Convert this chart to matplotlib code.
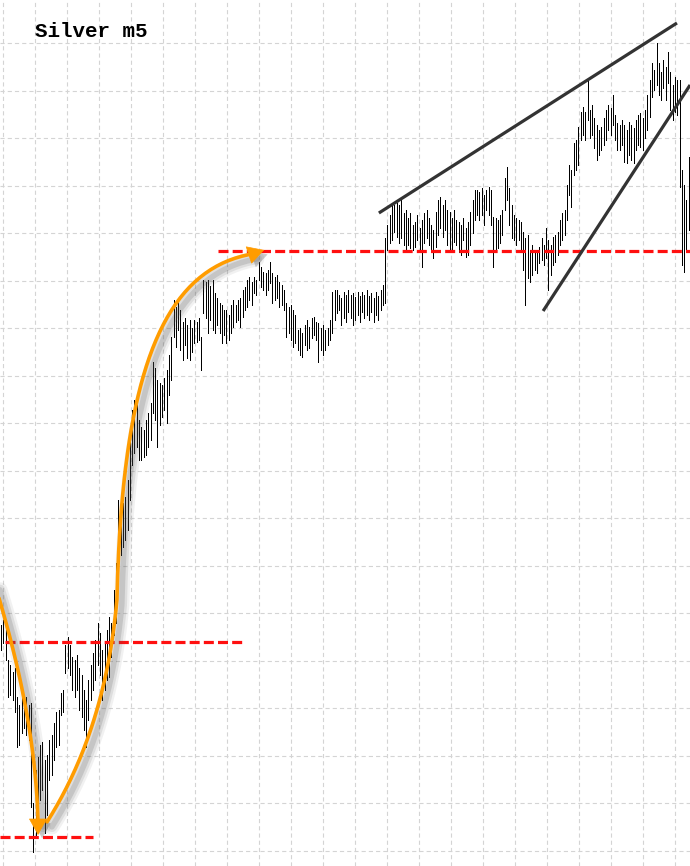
import numpy as np
import matplotlib
matplotlib.use("Agg")
import matplotlib.pyplot as plt
from matplotlib import patheffects as pe

plt.rcParams['lines.scale_dashes'] = False

TITLE = "Silver m5"

# bar highs / lows (price units), one entry per 5-minute bar
high = [241, 246, 236, 206, 201, 194, 198, 169, 161, 173, 166, 169, 161, 163, 63, 96, 109, 121, 124, 106,
        111, 126, 131, 143, 154, 156, 173, 176, 221, 229, 221, 209, 206, 211, 198, 191, 176, 166, 186, 201,
        213, 226, 243, 233, 216, 223, 236, 249, 243, 276, 303, 366, 356, 363, 369, 386, 426, 456, 466, 466,
        446, 439, 436, 446, 453, 463, 504, 498, 486, 483, 481, 488, 496, 511, 529, 566, 559, 566, 556, 544,
        548, 541, 546, 538, 546, 544, 548, 529, 586, 584, 586, 580, 586, 573, 568, 563, 561, 556, 556, 551,
        561, 566, 561, 566, 568, 576, 579, 586, 589, 584, 589, 586, 604, 599, 594, 593, 596, 604, 593, 589,
        591, 584, 581, 576, 563, 559, 561, 556, 551, 536, 538, 533, 541, 546, 539, 548, 549, 544, 543, 538,
        541, 536, 538, 546, 574, 576, 576, 571, 568, 574, 571, 576, 571, 573, 569, 574, 570, 574, 571, 576,
        570, 573, 568, 574, 570, 576, 581, 628, 641, 651, 663, 661, 663, 661, 666, 653, 656, 648, 653, 641,
        644, 651, 638, 646, 653, 656, 648, 641, 636, 654, 666, 669, 661, 666, 656, 654, 648, 656, 646, 644,
        641, 648, 638, 644, 654, 666, 676, 676, 674, 678, 671, 676, 679, 676, 649, 648, 646, 651, 656, 688,
        699, 678, 661, 651, 648, 646, 644, 634, 628, 631, 616, 621, 614, 616, 619, 628, 621, 638, 626, 621,
        629, 631, 634, 646, 653, 656, 681, 701, 696, 723, 726, 739, 754, 759, 754, 786, 756, 761, 748, 741,
        736, 739, 748, 756, 761, 758, 771, 751, 743, 741, 746, 741, 736, 744, 741, 738, 746, 751, 753, 748,
        756, 771, 786, 803, 796, 823, 803, 794, 806, 799, 814, 794, 781, 789, 786, 786, 696, 681, 666, 709]
low = [216, 223, 206, 169, 171, 166, 154, 119, 121, 133, 138, 131, 126, 59, 14, 31, 36, 66, 76, 33,
       51, 86, 91, 106, 119, 121, 151, 154, 193, 198, 191, 176, 169, 176, 156, 149, 136, 119, 146, 166,
       176, 186, 201, 191, 166, 176, 186, 189, 209, 231, 243, 306, 311, 319, 326, 336, 366, 401, 413, 419,
       406, 406, 409, 411, 419, 426, 453, 446, 419, 441, 449, 456, 443, 471, 486, 529, 519, 536, 516, 506,
       521, 508, 506, 514, 523, 524, 526, 496, 553, 548, 533, 546, 536, 533, 541, 533, 523, 531, 523, 526,
       533, 539, 544, 546, 539, 549, 556, 559, 566, 561, 573, 571, 586, 579, 576, 571, 576, 583, 563, 566,
       568, 559, 561, 556, 529, 533, 526, 519, 523, 516, 511, 509, 521, 516, 518, 528, 531, 526, 504, 516,
       511, 516, 521, 526, 533, 546, 553, 556, 541, 548, 544, 554, 548, 541, 546, 551, 544, 554, 548, 551,
       546, 554, 544, 551, 546, 556, 561, 563, 616, 623, 626, 634, 629, 623, 628, 621, 616, 621, 618, 616,
       619, 626, 616, 599, 623, 628, 621, 614, 608, 619, 631, 638, 629, 636, 621, 616, 616, 624, 621, 614,
       611, 626, 609, 611, 621, 633, 646, 651, 646, 651, 641, 656, 651, 641, 599, 616, 618, 623, 631, 656,
       666, 641, 628, 626, 621, 626, 616, 596, 561, 588, 584, 591, 596, 593, 603, 606, 601, 608, 576, 591,
       601, 604, 611, 621, 626, 631, 646, 671, 659, 691, 696, 701, 726, 731, 726, 746, 728, 731, 718, 706,
       711, 716, 721, 726, 736, 731, 741, 726, 716, 716, 721, 704, 703, 711, 706, 703, 716, 721, 719, 716,
       728, 736, 749, 769, 776, 781, 771, 766, 778, 766, 783, 756, 746, 754, 751, 679, 601, 594, 616, 636]

# annotation geometry (bar index, price): cubic Bezier control points + arrow tips
arc_down = [[(-2.6, 281), (7.4, 206), (15.2, 126), (16.1, 44)]]
arc_down_tip = (16.1, 31)
arc_up = [[(20.0, 44), (34.3, 96), (46.5, 166), (50.4, 266)],
          [(50.4, 266), (52.6, 486), (69.1, 596), (109.1, 612)]]
arc_up_tip = (114.4, 616)
red_levels = [(224, 1.7, 105.2), (29, -0.4, 40.0), (615, 94.3, 299.6)]
trend_lines = [((164.3, 653), (293.9, 843)), ((235.7, 555), (299.6, 781))]

ORANGE = '#FF9C00'


def bezier(segs, n=80):
    out = []
    t = np.linspace(0, 1, n)[:, None]
    for seg in segs:
        p0, p1, p2, p3 = [np.asarray(p, float) for p in seg]
        out.append((1 - t) ** 3 * p0 + 3 * (1 - t) ** 2 * t * p1 + 3 * (1 - t) * t ** 2 * p2 + t ** 3 * p3)
    return np.vstack(out)


fig = plt.figure(figsize=(6.9, 8.66), dpi=100)
ax = fig.add_axes([0, 0, 1, 1])
n = len(high)
ax.set_xlim(-0.435, 299.565)
ax.set_ylim(0, 866)

# grid
ax.set_xticks((np.arange(3, 690, 32) - 1) / 2.3)
ax.set_yticks(np.arange(15.5, 866, 47.5))
ax.grid(True, color='#d4d4d4', linestyle=(0, (3.0, 2.2)), linewidth=0.8)
ax.tick_params(length=0, labelbottom=False, labelleft=False)
for s in ax.spines.values():
    s.set_visible(False)
ax.set_axisbelow(True)

# bars
idx = np.arange(n)
ax.vlines(idx, low, high, colors='black', linewidth=0.72, antialiased=False, zorder=2)

# red dashed levels
for lvl, x0, x1 in red_levels:
    ax.plot([x0, x1], [lvl, lvl], color='#FF0F0F', linewidth=2.3,
            linestyle=(0, (7.2, 3.0)), solid_capstyle='butt', zorder=3)

# trend lines
for (x0, y0), (x1, y1) in trend_lines:
    ax.plot([x0, x1], [y0, y1], color='#333333', linewidth=2.3, solid_capstyle='butt', zorder=3)

shadow = [pe.SimpleLineShadow(offset=(3.5, -3.5), shadow_color='#555555', alpha=0.08, linewidth=11),
          pe.SimpleLineShadow(offset=(3.5, -3.5), shadow_color='#555555', alpha=0.12, linewidth=7.5),
          pe.SimpleLineShadow(offset=(3.5, -3.5), shadow_color='#555555', alpha=0.18, linewidth=4),
          pe.Normal()]

for segs, tip in [(arc_down, arc_down_tip), (arc_up, arc_up_tip)]:
    c = bezier(segs)
    ax.plot(c[:, 0], c[:, 1], color=ORANGE, linewidth=2.6, solid_capstyle='round',
            path_effects=shadow, zorder=4)
    an = ax.annotate('', xy=tip, xytext=tuple(c[-1]),
                     arrowprops=dict(arrowstyle='-|>,head_length=0.5,head_width=0.28',
                                     color=ORANGE, lw=0.5, mutation_scale=22,
                                     shrinkA=0, shrinkB=0), zorder=5)
    an.arrow_patch.set_path_effects([pe.SimplePatchShadow(offset=(3, -3), shadow_rgbFace='#555555', alpha=0.3),
                                     pe.Normal()])

ax.text(35 / 690, 1 - 37 / 866, TITLE, transform=ax.transAxes, family='Liberation Mono',
        fontweight='bold', fontsize=15, va='baseline', ha='left', color='black', zorder=6)

fig.savefig('out.png', dpi=100, facecolor='white')
